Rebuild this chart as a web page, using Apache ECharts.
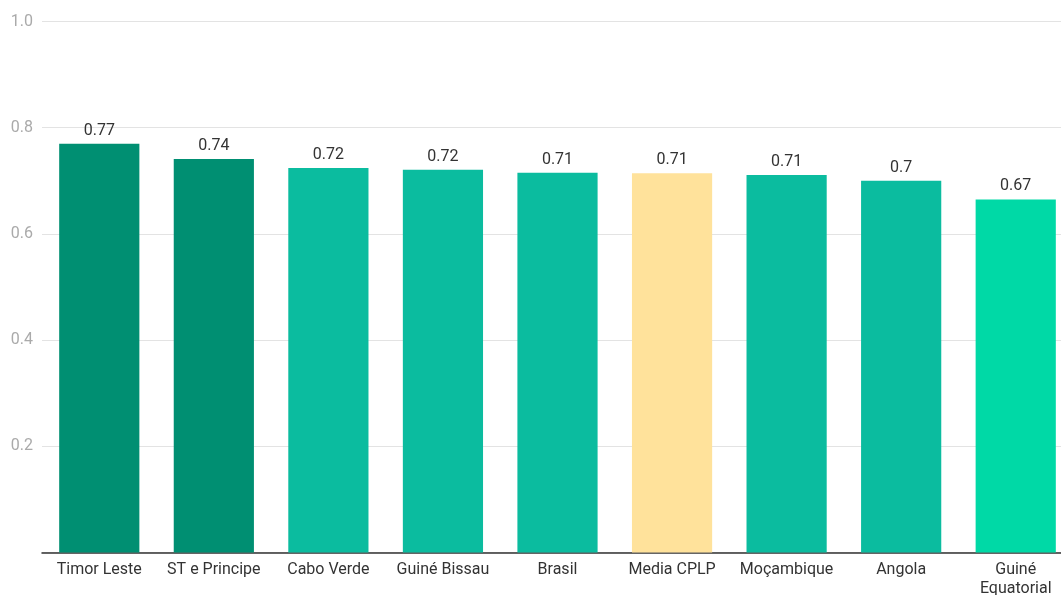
<!DOCTYPE html>
<html>
<head>
<meta charset="utf-8">
<style>html,body{margin:0;padding:0;background:#fff;}#c{width:1061px;height:595px;}</style>
<script src="https://cdn.jsdelivr.net/npm/echarts@6/dist/echarts.min.js"></script>
</head>
<body>
<div id="c"></div>
<script>
const categories = ['Timor Leste', 'ST e Principe', 'Cabo Verde', 'Guiné Bissau', 'Brasil', 'Media CPLP', 'Moçambique', 'Angola', 'Guiné\nEquatorial'];
const values = [0.77, 0.741, 0.724, 0.721, 0.715, 0.714, 0.711, 0.7, 0.665];
const colors = ['#008f72', '#008f72', '#0bbc9f', '#0bbc9f', '#0bbc9f', '#ffe29b', '#0bbc9f', '#0bbc9f', '#00d9a6'];

const chart = echarts.init(document.getElementById('c'));
chart.setOption({
  animation: false,
  grid: { left: 42, width: 1031, top: 21.5, height: 531, containLabel: false, outerBoundsMode: 'none' },
  xAxis: {
    type: 'category',
    data: categories,
    axisLine: { lineStyle: { color: '#333', width: 1.5 } },
    axisTick: { show: false },
    axisLabel: { color: '#333', fontFamily: 'Roboto', fontSize: 16, margin: 8, lineHeight: 19, interval: 0 }
  },
  yAxis: {
    type: 'value',
    min: 0, max: 1, interval: 0.2,
    axisLine: { show: false },
    axisTick: { show: false },
    splitLine: { lineStyle: { color: '#e3e3e3', width: 1 } },
    axisLabel: {
      color: '#aaaaaa', fontFamily: 'Roboto', fontSize: 16, margin: 9,
      formatter: v => v === 0 ? '' : v.toFixed(1)
    }
  },
  series: [{
    type: 'bar',
    barCategoryGap: '30%',
    data: values.map((v, i) => ({ value: v, itemStyle: { color: colors[i] } })),
    label: {
      show: true, position: 'top', distance: 5,
      color: '#333', fontFamily: 'Roboto', fontSize: 16,
      formatter: p => String(parseFloat(p.value.toFixed(2)))
    }
  }]
});
</script>
</body>
</html>
